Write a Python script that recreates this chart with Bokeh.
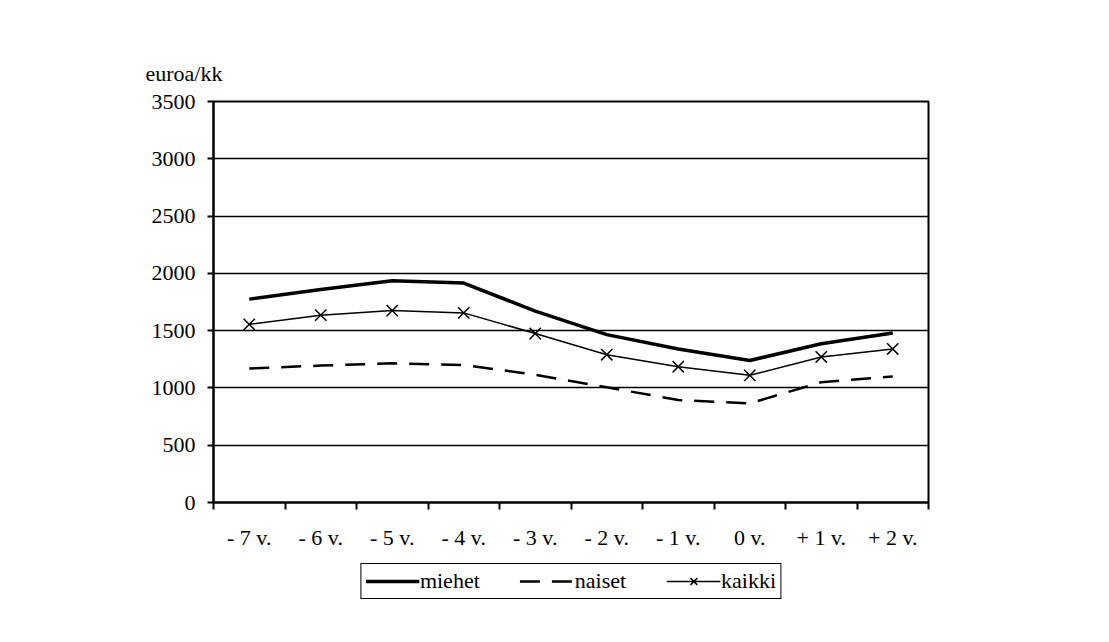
from bokeh.plotting import figure
from bokeh.layouts import column
from bokeh.models import FixedTicker, Legend, LegendItem, Title, ColumnDataSource, Range1d
from bokeh.embed import file_html
from bokeh.resources import INLINE

categories = ["- 7 v.", "- 6 v.", "- 5 v.", "- 4 v.", "- 3 v.", "- 2 v.", "- 1 v.", "0 v.", "+ 1 v.", "+ 2 v."]
miehet = [1775, 1860, 1935, 1915, 1670, 1465, 1340, 1240, 1385, 1480]
naiset = [1170, 1195, 1215, 1200, 1115, 1005, 895, 865, 1050, 1100]
kaikki = [1555, 1635, 1675, 1655, 1475, 1290, 1185, 1110, 1270, 1340]
y_ticks = [0, 500, 1000, 1500, 2000, 2500, 3000, 3500]
y_label = "euroa/kk"
series_names = ["miehet", "naiset", "kaikki"]

FONT = "Liberation Serif"
FS = "22px"

xs = list(range(1, len(categories) + 1))
src = ColumnDataSource(dict(x=xs, miehet=miehet, naiset=naiset, kaikki=kaikki))

STY = {
    "miehet": dict(line_color="black", line_width=3.5),
    "naiset": dict(line_color="black", line_width=2.5, line_dash="20 12"),
    "kaikki": dict(line_color="black", line_width=1.5),
}

p = figure(frame_width=715, frame_height=401, output_backend="svg", toolbar_location=None,
           x_range=(0.5, len(categories) + 0.5), y_range=(y_ticks[0], y_ticks[-1]),
           min_border_left=213, min_border_top=101, min_border_right=140, min_border_bottom=55)
p.background_fill_color = "white"
p.border_fill_color = "white"
p.outline_line_color = "black"
p.outline_line_width = 2

t = Title(text=y_label, align="left", offset=-68, standoff=32,
          text_font=FONT, text_font_size=FS, text_font_style="normal", text_color="black")
p.add_layout(t, "above")

# y axis
p.yaxis.ticker = FixedTicker(ticks=y_ticks)
p.yaxis.axis_line_width = 2
p.yaxis.axis_line_color = "black"
p.yaxis.major_tick_in = 0
p.yaxis.major_tick_out = 6
p.yaxis.major_tick_line_width = 2
p.yaxis.minor_tick_line_color = None
p.yaxis.major_label_text_font = FONT
p.yaxis.major_label_text_font_size = FS
p.yaxis.major_label_text_color = "black"
p.yaxis.major_label_standoff = 12

# x axis: labels at category centres, ticks at boundaries
bounds = [i + 0.5 for i in range(0, len(categories) + 1)]
p.xaxis.ticker = FixedTicker(ticks=xs, minor_ticks=bounds)
p.xaxis.major_label_overrides = {x: c for x, c in zip(xs, categories)}
p.xaxis.axis_line_width = 2
p.xaxis.axis_line_color = "black"
p.xaxis.major_tick_line_color = None
p.xaxis.minor_tick_in = 0
p.xaxis.minor_tick_out = 7
p.xaxis.minor_tick_line_width = 2
p.xaxis.minor_tick_line_color = "black"
p.xaxis.major_label_text_font = FONT
p.xaxis.major_label_text_font_size = FS
p.xaxis.major_label_text_color = "black"
p.xaxis.major_label_standoff = 15

p.xgrid.grid_line_color = None
p.ygrid.grid_line_color = "black"
p.ygrid.grid_line_width = 1.3

p.line("x", "miehet", source=src, **STY["miehet"])
p.line("x", "naiset", source=src, **STY["naiset"])
p.line("x", "kaikki", source=src, **STY["kaikki"])
p.scatter("x", "kaikki", source=src, marker="x", size=16, line_color="black", line_width=1.5)

# legend strip below, same borders as the main plot so the frames line up
# (the series are re-drawn here outside its visible range so only the legend shows)
q = figure(frame_width=715, frame_height=48, output_backend="svg", toolbar_location=None,
           x_range=Range1d(-100, -99), y_range=Range1d(-100, -99), x_axis_type=None, y_axis_type=None,
           min_border_left=213, min_border_right=140, min_border_top=0, min_border_bottom=0)
q.outline_line_color = None
q.background_fill_color = "white"
q.border_fill_color = "white"
q.xgrid.grid_line_color = None
q.ygrid.grid_line_color = None
l1 = q.line("x", "miehet", source=src, **STY["miehet"])
l2 = q.line("x", "naiset", source=src, **STY["naiset"])
l3 = q.line("x", "kaikki", source=src, **STY["kaikki"])
l3m = q.scatter("x", "kaikki", source=src, marker="x", size=16, line_color="black", line_width=1.5)

legend = Legend(items=[LegendItem(label=series_names[0], renderers=[l1]),
                       LegendItem(label=series_names[1], renderers=[l2]),
                       LegendItem(label=series_names[2], renderers=[l3, l3m])],
                orientation="horizontal", location="center",
                border_line_color="black", border_line_width=1.5, border_line_alpha=1,
                background_fill_color="white", background_fill_alpha=1,
                label_text_font=FONT, label_text_font_size=FS, label_text_color="black",
                glyph_width=54, glyph_height=24, label_standoff=1, spacing=40,
                padding=4, margin=0, label_height=22)
q.add_layout(legend)

layout = column(p, q, spacing=0)
open("out.html", "w").write(file_html(layout, INLINE))
